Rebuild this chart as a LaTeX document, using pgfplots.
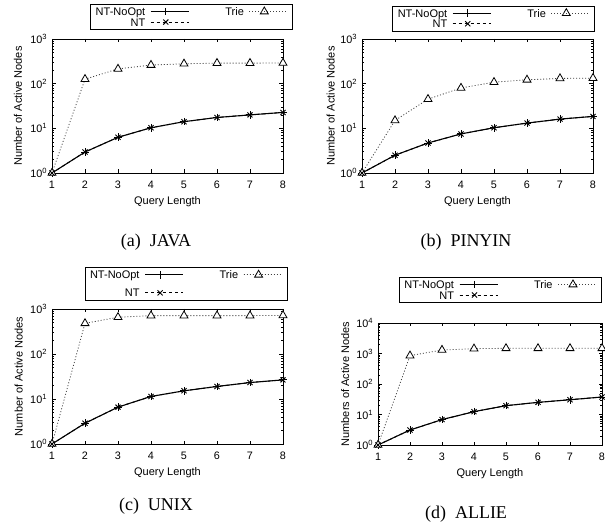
\documentclass[border=0pt]{standalone}
\usepackage{fontspec}
\setmainfont{Liberation Sans}
\newfontfamily\capfont{Liberation Serif}
\usepackage{pgfplots}
\pgfplotsset{compat=1.18}

\pgfplotsset{
  legend image code/.code={
    \draw[mark repeat=2, mark phase=2, #1] plot coordinates {(0pt,0pt) (15pt,0pt) (30pt,0pt)};
    \path (0pt,0pt) -- (38pt,0pt);
  },
  gp/.style={
    scale only axis,
    xmin=1, xmax=8, xtick={1,...,8},
    ymin=1,
    tick align=inside,
    major tick length=3.5pt, minor tick length=2pt,
    axis line style={line width=0.9pt},
    every tick/.style={black, line width=0.5pt},
    ticklabel style={font=\fontsize{10.8}{12}\selectfont},
    xticklabel style={yshift=-4.5pt},
    yticklabel style={xshift=-1.5pt},
    /pgf/number format/assume math mode=true,
    label style={font=\fontsize{11}{12}\selectfont},
    xlabel={Query Length},
    xlabel style={at={(axis description cs:0.5,0)}, anchor=center, yshift=-28.7pt},
    legend columns=2,
    legend plot pos=right,
    legend cell align=right,
    legend style={font=\fontsize{11}{11}\selectfont, draw=black, line width=0.6pt,
      inner xsep=5pt, inner ysep=2pt, anchor=north east,
      nodes={inner sep=0pt, text height=9.3pt, text depth=1.2pt},
      /tikz/every odd column/.append style={column sep=5pt},
      /tikz/every even column/.append style={column sep=36pt}},
  },
  nonopt/.style={black, line width=1.1pt, mark=+, mark size=3.8pt, mark options={solid, line width=0.9pt}},
  nt/.style={black, line width=0.9pt, dash pattern=on 3pt off 3pt, mark=x, mark size=3.6pt, mark options={solid, line width=0.9pt}},
  trie/.style={black!75, line width=0.8pt, dash pattern=on 1pt off 2pt, mark=triangle*, mark size=4.6pt,
    mark options={solid, fill=white, draw=black, line width=0.8pt}},
}

\begin{document}
\begin{tikzpicture}[x=1pt,y=1pt]
% (a) JAVA
\begin{semilogyaxis}[gp, at={(52pt,349pt)}, anchor=south west, width=231pt, height=134pt,
  ymax=1000, ytick={1,10,100,1000},
  yticklabels={10\textsuperscript{0},10\textsuperscript{1},10\textsuperscript{2},10\textsuperscript{3}},
  ylabel={Number of Active Nodes},
  ylabel style={at={(axis description cs:-0.147,0.5)}, anchor=center},
  legend style={at={(1.0433,1.261)}}]
\addplot[nonopt] coordinates {(1,1) (2,2.95) (3,6.3) (4,10.3) (5,14.1) (6,17.5) (7,20) (8,22.7)};
\addlegendentry{NT-NoOpt}
\addplot[trie] coordinates {(1,1) (2,126) (3,214) (4,261) (5,279) (6,288) (7,288) (8,290)};
\addlegendentry{Trie}
\addplot[nt] coordinates {(1,1) (2,2.95) (3,6.3) (4,10.3) (5,14.1) (6,17.5) (7,20) (8,22.7)};
\addlegendentry{NT}
\end{semilogyaxis}
% (b) PINYIN
\begin{semilogyaxis}[gp, at={(362pt,349pt)}, anchor=south west, width=231pt, height=134pt,
  ymax=1000, ytick={1,10,100,1000},
  yticklabels={10\textsuperscript{0},10\textsuperscript{1},10\textsuperscript{2},10\textsuperscript{3}},
  ylabel={Number of Active Nodes},
  ylabel style={at={(axis description cs:-0.136,0.5)}, anchor=center},
  legend style={at={(1.0087,1.2485)}}]
\addplot[nonopt] coordinates {(1,1) (2,2.5) (3,4.7) (4,7.5) (5,10.3) (6,13.1) (7,16.1) (8,18.5)};
\addlegendentry{NT-NoOpt}
\addplot[trie] coordinates {(1,1) (2,15) (3,45) (4,80) (5,108) (6,122) (7,131) (8,133)};
\addlegendentry{Trie}
\addplot[nt] coordinates {(1,1) (2,2.5) (3,4.7) (4,7.5) (5,10.3) (6,13.1) (7,16.1) (8,18.5)};
\addlegendentry{NT}
\end{semilogyaxis}
% (c) UNIX
\begin{semilogyaxis}[gp, at={(52pt,78pt)}, anchor=south west, width=231pt, height=135pt,
  ymax=1000, ytick={1,10,100,1000},
  yticklabels={10\textsuperscript{0},10\textsuperscript{1},10\textsuperscript{2},10\textsuperscript{3}},
  ylabel={Number of Active Nodes},
  ylabel style={at={(axis description cs:-0.144,0.5)}, anchor=center},
  legend style={at={(1.0186,1.309)}, row sep=7.5pt}]
\addplot[nonopt] coordinates {(1,1) (2,2.9) (3,6.6) (4,11.4) (5,15.2) (6,19) (7,23.2) (8,26.6)};
\addlegendentry{NT-NoOpt}
\addplot[trie] coordinates {(1,1) (2,480) (3,656) (4,712) (5,712) (6,712) (7,712) (8,720)};
\addlegendentry{Trie}
\addplot[nt] coordinates {(1,1) (2,2.9) (3,6.6) (4,11.4) (5,15.2) (6,19) (7,23.2) (8,26.6)};
\addlegendentry{NT}
\end{semilogyaxis}
% (d) ALLIE
\begin{semilogyaxis}[gp, at={(378pt,77pt)}, anchor=south west, width=224pt, height=122pt,
  ymax=10000, ytick={1,10,100,1000,10000},
  yticklabels={10\textsuperscript{0},10\textsuperscript{1},10\textsuperscript{2},10\textsuperscript{3},10\textsuperscript{4}},
  ylabel={Numbers of Active Nodes},
  ylabel style={at={(axis description cs:-0.147,0.5)}, anchor=center},
  legend style={at={(0.9987,1.377)}}]
\addplot[nonopt] coordinates {(1,1) (2,3.1) (3,6.8) (4,12.4) (5,19.5) (6,25) (7,30.5) (8,37.5)};
\addlegendentry{NT-NoOpt}
\addplot[trie] coordinates {(1,1) (2,850) (3,1300) (4,1440) (5,1480) (6,1480) (7,1480) (8,1480)};
\addlegendentry{Trie}
\addplot[nt] coordinates {(1,1) (2,3.1) (3,6.8) (4,12.4) (5,19.5) (6,25) (7,30.5) (8,37.5)};
\addlegendentry{NT}
\end{semilogyaxis}
% captions
\node[font=\capfont\fontsize{18}{20}\selectfont, anchor=base] at (156pt,275pt) {(a)\hspace{0.5em}JAVA};
\node[font=\capfont\fontsize{18}{20}\selectfont, anchor=base] at (466pt,275pt) {(b)\hspace{0.5em}PINYIN};
\node[font=\capfont\fontsize{18}{20}\selectfont, anchor=base] at (156pt,11.5pt) {(c)\hspace{0.5em}UNIX};
\node[font=\capfont\fontsize{18}{20}\selectfont, anchor=base] at (466pt,4pt) {(d)\hspace{0.5em}ALLIE};
\pgfresetboundingbox
\path[use as bounding box] (0pt,0pt) rectangle (605pt,522pt);
\end{tikzpicture}
\end{document}
